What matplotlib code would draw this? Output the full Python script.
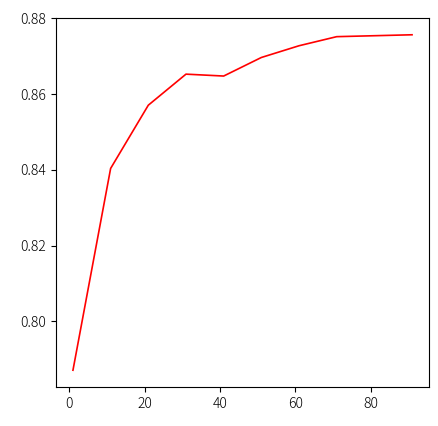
import matplotlib
matplotlib.use("Agg")
import matplotlib.pyplot as plt

plt.rcParams['font.family'] = ['Noto Sans CJK JP', 'DejaVu Sans']
plt.rcParams['font.weight'] = 'light'

# values
steps = [1, 11, 21, 31, 41, 51, 61, 71, 91]
scores = [0.7871, 0.8404, 0.8571, 0.8653, 0.8648, 0.8697, 0.8728, 0.8752, 0.8757]

fig = plt.figure(figsize=(4.39, 4.26), dpi=100)
ax = fig.add_axes([56 / 439, 1 - 387 / 426, (429 - 56) / 439, (387 - 18) / 426])
ax.plot(steps, scores, color='red', linewidth=1.2)
ax.tick_params(labelsize=10)

fig.savefig("out.png", dpi=100)
